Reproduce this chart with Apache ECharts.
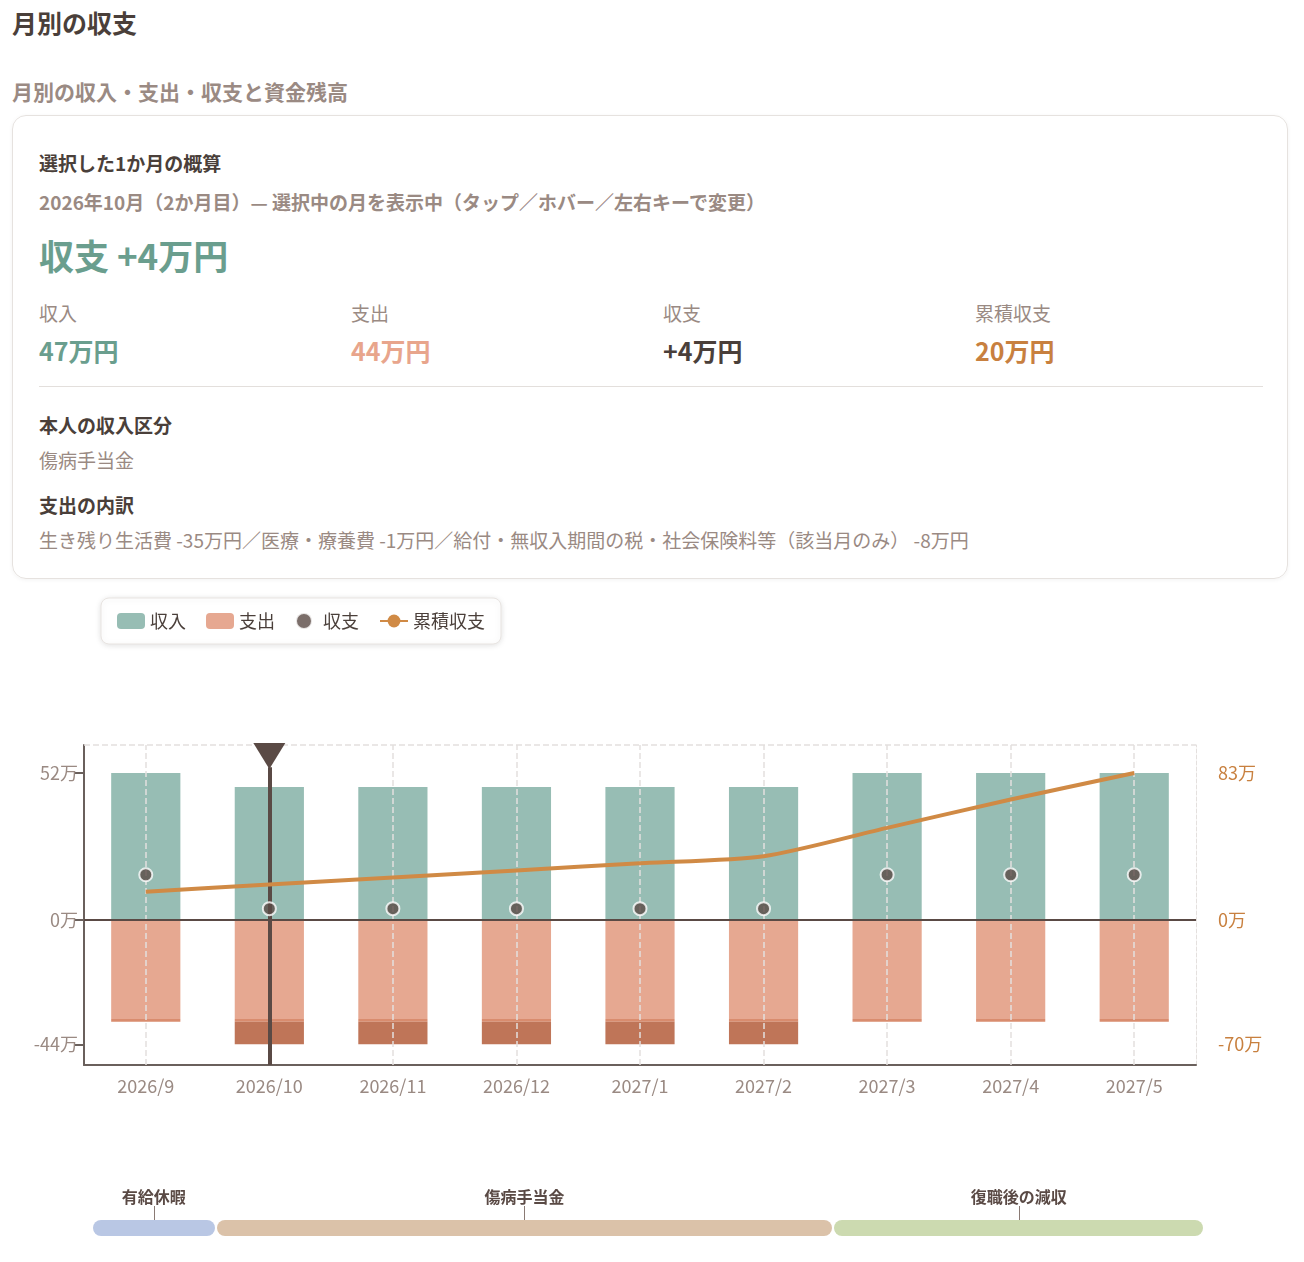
<!DOCTYPE html>
<html>
<head>
<meta charset="utf-8">
<script src="https://cdn.jsdelivr.net/npm/echarts@6/dist/echarts.min.js"></script>
<style>
  body { margin: 0; background: #fff; font-family: 'Noto Sans CJK JP', 'Noto Sans', sans-serif; color: #4a3f3a; }
  .page { position: relative; width: 1304px; height: 1262px; }
  h1 { position: absolute; left: 12px; top: 4px; margin: 0; font-size: 25px; font-weight: 700; color: #4a3f3a; }
  h2 { position: absolute; left: 12px; top: 76px; margin: 0; font-size: 21px; font-weight: 700; color: #9a8a83; }
  .card { position: absolute; left: 12px; top: 115px; width: 1248px; height: 438px; border: 1px solid #e6e2df; border-radius: 14px; padding: 12px 13px; box-shadow: 0 1px 4px rgba(0,0,0,0.05); }
  .t1 { position: absolute; left: 26px; top: 33px; font-size: 19px; font-weight: 700; }
  .t2 { position: absolute; left: 26px; top: 72px; font-size: 19px; font-weight: 700; color: #9a8a83; }
  .big { position: absolute; left: 26px; top: 113px; font-size: 35px; font-weight: 700; color: #6a9e8e; }
  .stat { position: absolute; top: 183px; }
  .stat .l { font-size: 19px; color: #9a8a83; }
  .stat .v { font-size: 25px; font-weight: 700; margin-top: 6px; }
  .hr { position: absolute; left: 26px; right: 24px; top: 270px; border-top: 1px solid #e3dfdc; }
  .s1 { position: absolute; left: 26px; top: 295px; font-size: 19px; font-weight: 700; }
  .s2 { position: absolute; left: 26px; top: 330px; font-size: 19px; color: #9a8a83; }
  .s3 { position: absolute; left: 26px; top: 375px; font-size: 19px; font-weight: 700; }
  .s4 { position: absolute; left: 26px; top: 410px; font-size: 19px; color: #9a8a83; }
  #chart { position: absolute; left: 0; top: 590px; width: 1304px; height: 672px; }
  .phases { position: absolute; left: 92px; top: 1180px; width: 1112px; height: 60px; display: flex; }
  .ph { position: relative; height: 60px; }
  .ph .lab { position: absolute; top: 4px; left: 0; right: 0; text-align: center; font-size: 16px; font-weight: 700; color: #5a4a45; }
  .ph .tk { position: absolute; top: 26px; left: 50%; height: 14px; border-left: 1px solid #8a7a74; }
  .ph .bar { position: absolute; top: 40px; left: 1px; right: 1px; height: 16px; border-radius: 8px; }
</style>
</head>
<body>
<div class="page">
  <h1>月別の収支</h1>
  <h2>月別の収入・支出・収支と資金残高</h2>
  <div class="card">
    <div class="t1">選択した1か月の概算</div>
    <div class="t2">2026年10月（2か月目）— 選択中の月を表示中（タップ／ホバー／左右キーで変更）</div>
    <div class="big">収支 +4万円</div>
    <div class="stat" style="left:26px"><div class="l">収入</div><div class="v" style="color:#6a9e8e">47万円</div></div>
    <div class="stat" style="left:338px"><div class="l">支出</div><div class="v" style="color:#e8a58c">44万円</div></div>
    <div class="stat" style="left:650px"><div class="l">収支</div><div class="v" style="color:#4a3f3a">+4万円</div></div>
    <div class="stat" style="left:962px"><div class="l">累積収支</div><div class="v" style="color:#c8803f">20万円</div></div>
    <div class="hr"></div>
    <div class="s1">本人の収入区分</div>
    <div class="s2">傷病手当金</div>
    <div class="s3">支出の内訳</div>
    <div class="s4">生き残り生活費 -35万円／医療・療養費 -1万円／給付・無収入期間の税・社会保険料等（該当月のみ） -8万円</div>
  </div>
  <div id="chart"></div>
  <div class="phases" id="phases"></div>
</div>
<script>
const months = ['2026/9','2026/10','2026/11','2026/12','2027/1','2027/2','2027/3','2027/4','2027/5']
const income = [52, 47, 47, 47, 47, 47, 52, 52, 52]
const living = [-35, -35, -35, -35, -35, -35, -35, -35, -35]
const medical = [-1, -1, -1, -1, -1, -1, -1, -1, -1]
const tax = [0, -8, -8, -8, -8, -8, 0, 0, 0]
const net = [16, 4, 4, 4, 4, 4, 16, 16, 16]
const cumulative = [16, 20, 24, 28, 32, 36, 52, 68, 83]
const leftTicks = [-44, 0, 52]
const rightTicks = [-70, 0, 83]
const selected = '2026/10'
const phases = [
  { name: '有給休暇', months: 1, color: '#b9c7e4' },
  { name: '傷病手当金', months: 5, color: '#dbc2a9' },
  { name: '復職後の減収', months: 3, color: '#ccdab0' }
]

const ph = document.getElementById('phases')
phases.forEach(p => {
  const d = document.createElement('div')
  d.className = 'ph'
  d.style.flex = p.months
  d.innerHTML = `<div class="lab">${p.name}</div><div class="tk"></div><div class="bar" style="background:${p.color}"></div>`
  ph.appendChild(d)
})

const font = "'Noto Sans CJK JP', sans-serif"
const chart = echarts.init(document.getElementById('chart'))
chart.setOption({
  textStyle: { fontFamily: font },
  legend: {
    left: 101, top: 8, padding: [14, 16], itemGap: 20,
    backgroundColor: '#fff', borderColor: '#e8e4e1', borderWidth: 1, borderRadius: 8,
    shadowColor: 'rgba(0,0,0,0.12)', shadowBlur: 6, shadowOffsetY: 1,
    textStyle: { fontSize: 18, color: '#4a3f3a', fontFamily: font },
    itemWidth: 28, itemHeight: 16,
    data: [
      { name: '収入', icon: 'roundRect' },
      { name: '支出', icon: 'roundRect' },
      { name: '収支', icon: 'circle', itemStyle: { color: '#5a4a45' } },
      { name: '累積収支' }
    ]
  },
  grid: { left: 84, right: 108, top: 155, bottom: 197 },
  xAxis: {
    type: 'category', data: months,
    axisLine: { onZero: false, lineStyle: { color: '#6a605c', width: 2 } },
    axisTick: { alignWithLabel: true, length: 8, lineStyle: { color: '#6a605c', width: 2 } },
    axisLabel: { fontSize: 18, color: '#9a8a83', margin: 12 }
  },
  yAxis: [
    {
      type: 'value', min: -51.3, max: 61.9,
      splitLine: { show: false },
      axisLine: { show: true, lineStyle: { color: '#6a605c', width: 2 } },
      axisTick: { show: true, customValues: leftTicks, length: 10, lineStyle: { color: '#6a605c', width: 2 } },
      axisLabel: { customValues: leftTicks, fontSize: 18, color: '#9a8a83', formatter: v => v + '万', margin: 6 }
    },
    {
      type: 'value', min: -81.9, max: 98.8,
      splitLine: { show: false },
      axisLine: { show: true, lineStyle: { color: '#e4e0de', type: 'dashed', width: 1 } },
      axisTick: { show: false },
      axisLabel: { customValues: rightTicks, fontSize: 18, color: '#c8803f', formatter: v => v + '万', margin: 22 }
    }
  ],
  series: [
    {
      name: '収入', type: 'bar', stack: 'm', data: income, barWidth: '56%',
      itemStyle: { color: '#97bdb4' },
      markLine: {
        silent: true, symbol: 'none', label: { show: false },
        lineStyle: { color: '#e4e0de', type: 'dashed', width: 1.5 },
        data: months.map(m => ({ xAxis: m })).concat([{ yAxis: 61.9 }])
      }
    },
    { name: '支出', type: 'bar', stack: 'm', data: living, itemStyle: { color: '#e6a891' } },
    { name: '医療', type: 'bar', stack: 'm', data: medical, itemStyle: { color: '#d98c6e' } },
    {
      name: '税', type: 'bar', stack: 'm', data: tax, itemStyle: { color: '#bf7558' },
      markLine: {
        silent: true, symbol: 'none', label: { show: false }, z: 10,
        lineStyle: { color: '#5a4a45', type: 'solid', width: 2 },
        data: [{ yAxis: 0 }]
      }
    },
    {
      name: '累積収支', type: 'line', yAxisIndex: 1, data: cumulative, smooth: 0.25,
      symbol: 'none', lineStyle: { color: '#d08a45', width: 4 }, itemStyle: { color: '#d08a45' }, z: 5
    },
    {
      name: '収支', type: 'scatter', data: net, symbolSize: 13, z: 6,
      itemStyle: { color: '#5a4a45', borderColor: '#fff', borderWidth: 2 },
      markLine: {
        silent: true, symbol: 'none', label: { show: false },
        lineStyle: { color: '#5a4a45', type: 'solid', width: 4 },
        data: [[{ coord: [selected, 54] }, { coord: [selected, -51.3] }]]
      },
      markPoint: {
        silent: true, symbol: 'triangle', symbolRotate: 180, symbolSize: [32, 26],
        itemStyle: { color: '#5a4a45', borderWidth: 0 }, label: { show: false },
        data: [{ coord: [selected, 58] }]
      }
    }
  ]
})
</script>
</body>
</html>
